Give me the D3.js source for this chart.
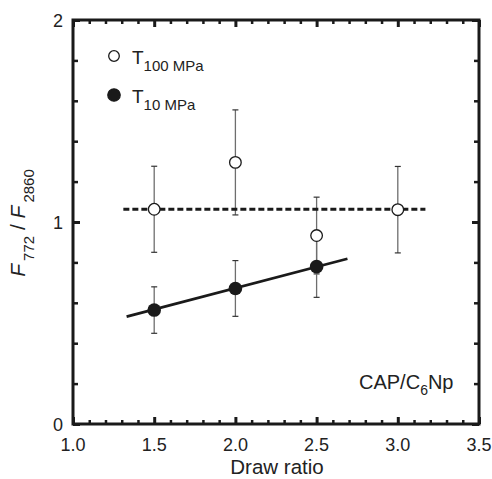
<!DOCTYPE html>
<meta charset="utf-8">
<script src="https://d3js.org/d3.v7.min.js"></script>
<style>
  body { margin: 0; background: #fff; }
  text { font-family: "Liberation Sans", Arial, sans-serif; fill: #222; }
</style>
<div id="chart"></div>
<script>
// values
var ratio100 = [1.5, 2.0, 2.5, 3.0],
    t100 = [1.063, 1.295, 0.933, 1.061],
    t100Err = [0.213, 0.26, 0.19, 0.214];
var ratio10 = [1.5, 2.0, 2.5],
    t10 = [0.564, 0.671, 0.779],
    t10Err = [0.115, 0.138, 0.152];
// fitted lines (end points)
var fit100 = [[1.31, 1.063], [3.17, 1.063]],
    fit10 = [[1.33, 0.532], [2.69, 0.818]];
var xTicks = [1.0, 1.5, 2.0, 2.5, 3.0, 3.5],
    yTicks = [0, 1, 2];

var W = 492, H = 479;
var margin = {top: 20, right: 13, bottom: 55, left: 73},
    width = W - margin.left - margin.right,
    height = H - margin.top - margin.bottom;

var svg = d3.select("#chart").append("svg")
    .attr("width", W).attr("height", H)
  .append("g")
    .attr("transform", "translate(" + margin.left + "," + margin.top + ")");

var x = d3.scaleLinear().domain([1, 3.5]).range([0, width]);
var y = d3.scaleLinear().domain([0, 2]).range([height, 0]);

var xMinor = d3.range(11, 35).map(function(d) { return d / 10; }).filter(function(d) { return Math.round(d * 10) % 5 != 0; });
var yMinor = [0.2, 0.4, 0.6, 0.8, 1.2, 1.4, 1.6, 1.8];

function tickAxis(axis, vals, size) {
  return axis.tickValues(vals).tickSizeInner(-size).tickSizeOuter(0).tickFormat("");
}
function styleTicks(g, w) {
  g.select(".domain").remove();
  g.selectAll(".tick line").attr("stroke", "#1a1a1a").attr("stroke-width", w);
}

// ticks pointing inward on all four sides
svg.append("g").attr("transform", "translate(0," + height + ")")
  .call(tickAxis(d3.axisBottom(x), xTicks, 7)).call(styleTicks, 3);
svg.append("g").attr("transform", "translate(0," + height + ")")
  .call(tickAxis(d3.axisBottom(x), xMinor, 4)).call(styleTicks, 2.5);
svg.append("g")
  .call(tickAxis(d3.axisTop(x), xTicks, 7)).call(styleTicks, 3);
svg.append("g")
  .call(tickAxis(d3.axisTop(x), xMinor, 4)).call(styleTicks, 2.5);
svg.append("g")
  .call(tickAxis(d3.axisLeft(y), yTicks, 7)).call(styleTicks, 3);
svg.append("g")
  .call(tickAxis(d3.axisLeft(y), yMinor, 5)).call(styleTicks, 2.5);
svg.append("g").attr("transform", "translate(" + width + ",0)")
  .call(tickAxis(d3.axisRight(y), yTicks, 7)).call(styleTicks, 3);
svg.append("g").attr("transform", "translate(" + width + ",0)")
  .call(tickAxis(d3.axisRight(y), yMinor, 5)).call(styleTicks, 2.5);

// frame
svg.append("rect")
  .attr("width", width).attr("height", height)
  .attr("fill", "none").attr("stroke", "#1a1a1a").attr("stroke-width", 3);

// tick labels
svg.selectAll(".xlab").data(xTicks).enter().append("text")
  .attr("x", function(d) { return x(d); })
  .attr("y", height + 27)
  .attr("text-anchor", "middle")
  .attr("font-size", "18px")
  .text(function(d) { return d.toFixed(1); });
svg.selectAll(".ylab").data(yTicks).enter().append("text")
  .attr("x", -10)
  .attr("y", function(d) { return y(d) + 7; })
  .attr("text-anchor", "end")
  .attr("font-size", "18px")
  .text(function(d) { return d; });

// axis titles
svg.append("text")
  .attr("x", width / 2 + 1).attr("y", height + 50)
  .attr("text-anchor", "middle")
  .attr("font-size", "20.5px")
  .text("Draw ratio");

var yt = svg.append("text")
  .attr("transform", "translate(-48," + (y(1) + 1) + ") rotate(-90)")
  .attr("text-anchor", "middle")
  .attr("font-size", "21px");
yt.append("tspan").attr("font-style", "italic").text("F");
yt.append("tspan").attr("font-size", "15px").attr("dx", 3).attr("dy", 9).text("772");
yt.append("tspan").attr("dy", -9).text(" / ");
yt.append("tspan").attr("font-style", "italic").text("F");
yt.append("tspan").attr("font-size", "15px").attr("dx", 3).attr("dy", 9).text("2860");

// error bars
function errorBars(xs, ys, es) {
  var g = svg.append("g");
  xs.forEach(function(d, i) {
    var cx = x(d), top = y(ys[i] + es[i]), bot = y(ys[i] - es[i]);
    g.append("line").attr("x1", cx).attr("x2", cx).attr("y1", top).attr("y2", bot)
      .attr("stroke", "#6e6e6e").attr("stroke-width", 1.3);
    [top, bot].forEach(function(yy) {
      g.append("line").attr("x1", cx - 3).attr("x2", cx + 3).attr("y1", yy).attr("y2", yy)
        .attr("stroke", "#333").attr("stroke-width", 1.2);
    });
  });
}
errorBars(ratio100, t100, t100Err);
errorBars(ratio10, t10, t10Err);

// fitted lines
var line = d3.line().x(function(d) { return x(d[0]); }).y(function(d) { return y(d[1]); });
svg.append("path").attr("d", line(fit100))
  .attr("fill", "none").attr("stroke", "#1a1a1a").attr("stroke-width", 3)
  .attr("stroke-dasharray", "6,3");
svg.append("path").attr("d", line(fit10))
  .attr("fill", "none").attr("stroke", "#1a1a1a").attr("stroke-width", 2.8);

// markers
svg.selectAll(".open").data(ratio100).enter().append("circle")
  .attr("cx", function(d) { return x(d); })
  .attr("cy", function(d, i) { return y(t100[i]); })
  .attr("r", 5.8)
  .attr("fill", "#fff").attr("stroke", "#1a1a1a").attr("stroke-width", 1.3);
svg.selectAll(".filled").data(ratio10).enter().append("circle")
  .attr("cx", function(d) { return x(d); })
  .attr("cy", function(d, i) { return y(t10[i]); })
  .attr("r", 6.8)
  .attr("fill", "#1a1a1a");

// legend
var legend = [
  {label: "T", sub: "100 MPa", fill: "#fff", r: 5.3, y: 36},
  {label: "T", sub: "10 MPa", fill: "#1a1a1a", r: 6.2, y: 75}
];
legend.forEach(function(d) {
  svg.append("circle").attr("cx", 41).attr("cy", d.y).attr("r", d.r)
    .attr("fill", d.fill).attr("stroke", "#1a1a1a").attr("stroke-width", 1.3);
  var t = svg.append("text").attr("x", 59).attr("y", d.y + 8).attr("font-size", "19px");
  t.append("tspan").text(d.label);
  t.append("tspan").attr("font-size", "15px").attr("dy", 7).text(d.sub);
});

// sample label
var s = svg.append("text").attr("x", 286).attr("y", 369).attr("font-size", "20px");
s.append("tspan").text("CAP/C");
s.append("tspan").attr("font-size", "14px").attr("dy", 6).text("6");
s.append("tspan").attr("dy", -6).text("Np");
</script>
